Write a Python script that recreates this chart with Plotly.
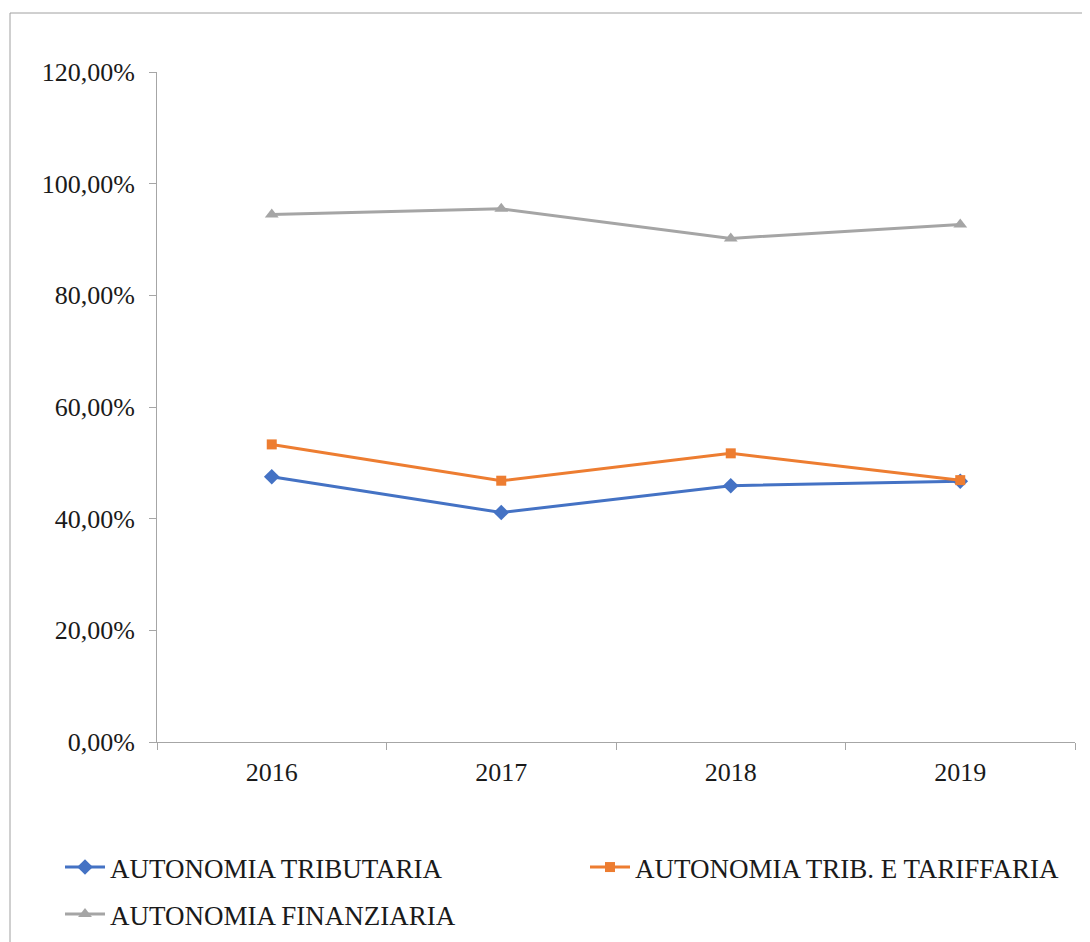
import plotly.graph_objects as go

years = ["2016", "2017", "2018", "2019"]
trib = [0.475, 0.411, 0.459, 0.467]
trib_tar = [0.533, 0.468, 0.517, 0.469]
finanz = [0.945, 0.955, 0.902, 0.927]
names = ["AUTONOMIA TRIBUTARIA", "AUTONOMIA TRIB. E TARIFFARIA", "AUTONOMIA FINANZIARIA"]
y_ticks = [0, 0.2, 0.4, 0.6, 0.8, 1.0, 1.2]

# page body has an 8px margin: work in figure pixel coords (reference - 8)
OFF = 8
W, H = 1090, 942
L, R, T, B = 157 - OFF, W - (1075 - OFF), 72 - OFF, H - (742 - OFF)
pw, ph = W - L - R, H - T - B

font = "Liberation Serif, Times New Roman, serif"
FS = 26
LFS = 27
fig = go.Figure()
series = [(trib, "#4472C4", "diamond", 12, "legend"),
          (trib_tar, "#ED7D31", "square", 10, "legend3"),
          (finanz, "#A5A5A5", "triangle-up", 12, "legend2")]
for (vals, col, sym, sz, lg), nm in zip(series, names):
    fig.add_trace(go.Scatter(x=years, y=vals, name=nm, mode="lines+markers",
                             line=dict(color=col, width=3),
                             marker=dict(symbol=sym, size=sz, color=col), legend=lg))

def px_x(p):
    return (p - OFF - L) / pw

def px_y(p):
    return (H - B - (p - OFF)) / ph

fig.add_shape(type="rect", xref="paper", yref="paper",
              x0=px_x(10), x1=px_x(1089), y0=px_y(980), y1=px_y(13),
              line=dict(color="#a0a0a0", width=1), fillcolor="rgba(0,0,0,0)", layer="below")

def leg(xs, ys):
    return dict(orientation="h", xref="container", yref="container",
                x=(xs - OFF) / W, y=1 - (ys - OFF) / H, xanchor="left", yanchor="top",
                font=dict(size=LFS), bgcolor="rgba(0,0,0,0)", itemwidth=40)

fig.update_layout(
    width=W, height=H, margin=dict(l=L, r=R, t=T, b=B),
    paper_bgcolor="white", plot_bgcolor="white",
    separators=",.",
    font=dict(family=font, size=FS, color="#1a1a1a"),
    xaxis=dict(type="category", range=[-0.5, 3.5], showline=True, linecolor="#a6a6a6", linewidth=1,
               ticks="outside", tickson="boundaries", ticklen=7, tickcolor="#a6a6a6",
               showgrid=False, zeroline=False, tickfont=dict(size=FS), ticklabelstandoff=7),
    yaxis=dict(range=[0, 1.2], tickvals=y_ticks, tickformat=".2%", showline=True, linecolor="#a6a6a6",
               linewidth=1, ticks="outside", ticklen=7, tickcolor="#a6a6a6", showgrid=False,
               zeroline=False, tickfont=dict(size=FS), ticklabelstandoff=9),
    legend=leg(60, 843),
    legend3=leg(585, 843),
    legend2=leg(60, 890),
    showlegend=True,
)
fig.write_html("out.html")
